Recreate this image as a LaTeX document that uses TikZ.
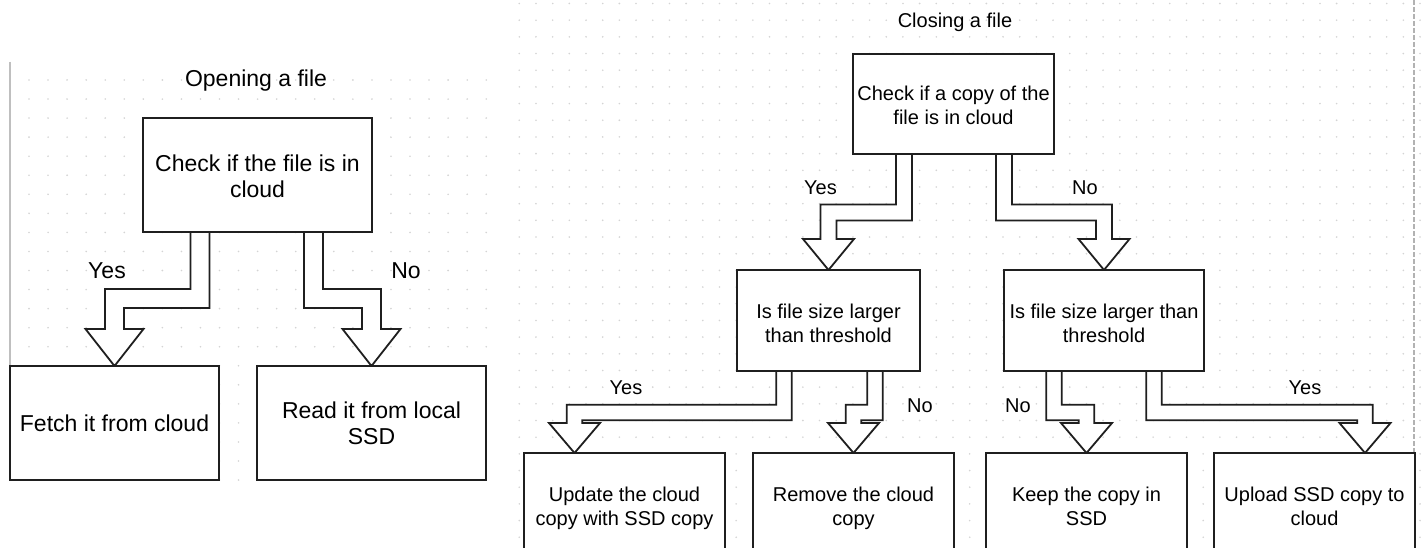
\documentclass[tikz,border=0pt]{standalone}
\usepackage{fontspec}
\setmainfont{Liberation Sans}
\usetikzlibrary{calc}
\tikzset{
  box/.style={draw=black!88, line width=1.8pt, fill=white, align=center, inner sep=0pt, outer sep=0pt, text=black},
  lbox/.style={box, font=\fontsize{23}{26}\selectfont},
  rbox/.style={box, font=\fontsize{20}{23.5}\selectfont},
  ltxt/.style={font=\fontsize{23}{26}\selectfont, inner sep=0pt, text=black},
  rtxt/.style={font=\fontsize{20}{23.5}\selectfont, inner sep=0pt, text=black},
  flex/.style={draw=black!88, line width=1.8pt, fill=white, line join=miter},
  griddot/.style={fill=black!17},
}
% #1 start (top centre of shaft), #2 tip, #3 depth of band centre below start,
% #4 shaft half width, #5 head half width, #6 head length, #7 sign (+1 turns left, -1 turns right)
\newcommand{\flexarr}[7]{%
  \path[flex] let \p1=(#1), \p2=(#2) in
    ({\x1-#4pt},\y1) -- ({\x1-#4pt},{\y1-#3pt+(#7)*#4pt}) -- ({\x2-#4pt},{\y1-#3pt+(#7)*#4pt})
    -- ({\x2-#4pt},{\y2+#6pt}) -- ({\x2-#5pt},{\y2+#6pt}) -- (\x2,\y2) -- ({\x2+#5pt},{\y2+#6pt})
    -- ({\x2+#4pt},{\y2+#6pt}) -- ({\x2+#4pt},{\y1-#3pt-(#7)*#4pt}) -- ({\x1+#4pt},{\y1-#3pt-(#7)*#4pt})
    -- ({\x1+#4pt},\y1);
}
\begin{document}
\begin{tikzpicture}[x=1pt,y=-1pt]
\path[use as bounding box] (0,0) rectangle (1423,548);
\clip (0,0) rectangle (1423,548);
\fill[white] (0,0) rectangle (1423,548);

% ---------- grids ----------
\foreach \i in {0,...,24} \foreach \j in {0,...,21}
  \fill[griddot] ({29+19.05*\i},{80+19.05*\j}) circle (0.9pt);
\foreach \i in {0,...,54} \foreach \j in {0,...,32}
  \fill[griddot] ({519.3+16.68*\i},{3.5+16.68*\j}) circle (0.9pt);
\draw[black!25, line width=2pt] (9.5,62) -- (9.5,480);
\draw[black!30, line width=1.2pt, dash pattern=on 5pt off 2pt] (1414,0) -- (1414,548);

% ---------- boxes (positions) ----------
\path
  (257.5,175) coordinate (pL0)
  (114.5,423) coordinate (pL1)
  (371.5,423) coordinate (pL2)
  (953.5,104) coordinate (pR0)
  (828.5,320.5) coordinate (pRA)
  (1104,320.5) coordinate (pRB)
  (624.5,503) coordinate (pRA1)
  (853.5,503) coordinate (pRA2)
  (1086.5,503) coordinate (pRB1)
  (1314.5,503) coordinate (pRB2);

% invisible named nodes first so that arrows can refer to them
\node[lbox, draw=none, fill=none, minimum width=229pt, minimum height=114pt] (L0) at (pL0) {};
\node[lbox, draw=none, fill=none, minimum width=209pt, minimum height=114pt] (L1) at (pL1) {};
\node[lbox, draw=none, fill=none, minimum width=229pt, minimum height=114pt] (L2) at (pL2) {};
\node[rbox, draw=none, fill=none, minimum width=201pt, minimum height=100pt] (R0) at (pR0) {};
\node[rbox, draw=none, fill=none, minimum width=183pt, minimum height=101pt] (RA) at (pRA) {};
\node[rbox, draw=none, fill=none, minimum width=200pt, minimum height=101pt] (RB) at (pRB) {};
\node[rbox, draw=none, fill=none, minimum width=201pt, minimum height=100pt] (RA1) at (pRA1) {};
\node[rbox, draw=none, fill=none, minimum width=201pt, minimum height=100pt] (RA2) at (pRA2) {};
\node[rbox, draw=none, fill=none, minimum width=201pt, minimum height=100pt] (RB1) at (pRB1) {};
\node[rbox, draw=none, fill=none, minimum width=201pt, minimum height=100pt] (RB2) at (pRB2) {};

% ---------- flex arrows ----------
\flexarr{$(L0.south)+(-57.5,0)$}{L1.north}{66.5}{9.5}{29}{37}{1}
\flexarr{$(L0.south)+(56,0)$}{L2.north}{66.5}{9.5}{29}{37}{-1}
\flexarr{$(R0.south)+(-49.5,0)$}{RA.north}{58.5}{8}{25.5}{31}{1}
\flexarr{$(R0.south)+(50.5,0)$}{RB.north}{58.5}{8}{25.5}{31}{-1}
\flexarr{$(RA.south)+(-44.5,0)$}{$(RA1.north)+(-50,0)$}{41.5}{7.8}{25.5}{30}{1}
\flexarr{$(RA.south)+(46.5,0)$}{RA2.north}{41.5}{7.8}{25.5}{30}{1}
\flexarr{$(RB.south)+(-50,0)$}{RB1.north}{41.5}{7.8}{25.5}{30}{-1}
\flexarr{$(RB.south)+(50,0)$}{$(RB2.north)+(50.5,0)$}{41.5}{7.8}{25.5}{30}{-1}

% ---------- visible boxes ----------
\node[lbox, minimum width=229pt, minimum height=114pt, text height=44pt, text depth=0pt] (L0b) at (pL0) {Check if the file is in\\cloud};
\node[lbox, minimum width=209pt, minimum height=114pt] (L1b) at (pL1) {Fetch it from cloud};
\node[lbox, minimum width=229pt, minimum height=114pt] (L2b) at (pL2) {Read it from local\\SSD};
\node[rbox, minimum width=201pt, minimum height=100pt, text height=41pt, text depth=0pt] (R0b) at (pR0) {Check if a copy of the\\file is in cloud};
\node[rbox, minimum width=183pt, minimum height=101pt, text height=43pt, text depth=0pt] (RAb) at (pRA) {Is file size larger\\than threshold};
\node[rbox, minimum width=200pt, minimum height=101pt, text height=43pt, text depth=0pt] (RBb) at (pRB) {Is file size larger than\\threshold};
\node[rbox, minimum width=201pt, minimum height=100pt, text height=44pt, text depth=0pt] (RA1b) at (pRA1) {Update the cloud\\copy with SSD copy};
\node[rbox, minimum width=201pt, minimum height=100pt, text height=44pt, text depth=0pt] (RA2b) at (pRA2) {Remove the cloud\\copy};
\node[rbox, minimum width=201pt, minimum height=100pt, text height=44pt, text depth=0pt] (RB1b) at (pRB1) {Keep the copy in\\SSD};
\node[rbox, minimum width=201pt, minimum height=100pt, text height=44pt, text depth=0pt] (RB2b) at (pRB2) {Upload SSD copy to\\cloud};

% ---------- titles and labels ----------
\node[ltxt] (t1) at (256,81) {Opening a file};
\node[rtxt] (t2) at (955,22) {Closing a file};
\node[ltxt] (ly) at (107,271) {Yes};
\node[ltxt] (ln) at (406,271) {No};
\node[rtxt] (ry) at (820.5,188) {Yes};
\node[rtxt] (rn) at (1085,188) {No};
\node[rtxt] (ray) at (626,388) {Yes};
\node[rtxt] (ran) at (920,406) {No};
\node[rtxt] (rbn) at (1018,406) {No};
\node[rtxt] (rby) at (1305,388) {Yes};
\end{tikzpicture}
\end{document}
